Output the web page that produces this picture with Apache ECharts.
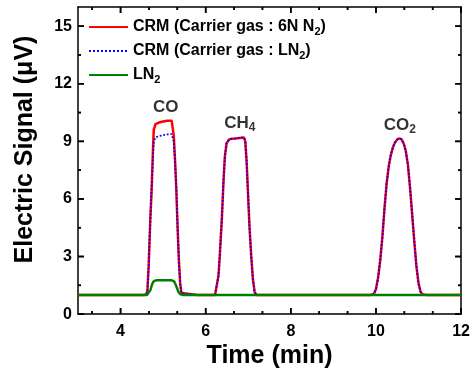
<!DOCTYPE html>
<html><head><meta charset="utf-8">
<script src="https://cdn.jsdelivr.net/npm/echarts@6/dist/echarts.min.js"></script>
<style>html,body{margin:0;padding:0;background:#fff}#c{width:473px;height:374px}</style>
</head><body><div id="c"></div>
<script>
// ---- data (time in min, signal in µV) ----
const xMajorTicks = [4, 6, 8, 10, 12];
const xMinorTicks = [3.333, 4.667, 5.333, 6.667, 7.333, 8.667, 9.333, 10.667, 11.333];
const yMajorTicks = [0, 3, 6, 9, 12, 15];
const yMinorTicks = [1.5, 4.5, 7.5, 10.5, 13.5];

const baseStart = [[3, 1.0], [4.0, 1.0], [4.55, 1.0]];
const redCO = [[4.6,1.02],[4.63,1.2],[4.66,2.5],[4.7,5.0],[4.73,6.5],[4.76,8.5],[4.78,9.6],[4.82,9.9],[4.9,9.98],[5.0,10.03],[5.1,10.07],[5.2,10.08],[5.23,10.0],[5.25,9.3],[5.28,8.0],[5.31,6.5],[5.34,4.5],[5.37,2.8],[5.4,1.6],[5.43,1.1],[5.47,1.0]];
const blueCO = [[4.6,1.02],[4.63,1.2],[4.66,2.5],[4.7,5.0],[4.73,6.5],[4.76,8.2],[4.78,9.0],[4.82,9.2],[4.9,9.27],[5.0,9.32],[5.1,9.36],[5.2,9.38],[5.23,9.3],[5.25,9.0],[5.28,8.0],[5.31,6.5],[5.34,4.5],[5.37,2.8],[5.4,1.6],[5.43,1.1],[5.47,1.0]];
const baseMid = [[5.8, 1.0], [6.22, 1.0]];
const ch4 = [[6.26,1.03],[6.3,2.0],[6.33,3.0],[6.38,5.0],[6.42,7.0],[6.45,8.2],[6.49,8.9],[6.55,9.1],[6.6,9.13],[6.7,9.15],[6.8,9.18],[6.9,9.2],[6.93,9.0],[6.96,8.0],[6.99,6.5],[7.03,4.5],[7.07,3.0],[7.11,1.8],[7.15,1.15],[7.19,1.0]];
const baseMid2 = [[8.5, 1.0], [9.88, 1.0]];
const co2 = [[9.95,1.05],[10.0,1.3],[10.05,1.9],[10.1,2.8],[10.15,4.0],[10.2,5.5],[10.25,6.8],[10.3,7.7],[10.35,8.3],[10.4,8.7],[10.45,8.95],[10.5,9.1],[10.55,9.15],[10.6,9.1],[10.65,8.9],[10.7,8.5],[10.75,7.8],[10.8,6.6],[10.85,5.2],[10.9,3.8],[10.95,2.5],[11.0,1.6],[11.05,1.15],[11.1,1.02]];
const baseEnd = [[11.2, 1.0], [12, 1.0]];
const greenCO = [[4.62,1.0],[4.66,1.05],[4.7,1.25],[4.74,1.55],[4.78,1.72],[4.85,1.76],[5.0,1.77],[5.2,1.76],[5.26,1.7],[5.31,1.45],[5.36,1.15],[5.41,1.03],[5.46,1.0]];

const peakLabels = [
  { name: 'CO', text: 'CO', x: 5.06, y: 10.75 },
  { name: 'CH4', text: 'CH{sub|4}', x: 6.8, y: 9.95 },
  { name: 'CO2', text: 'CO{sub|2}', x: 10.56, y: 9.85 }
];
const legendNames = ['CRM (Carrier gas : 6N N2)', 'CRM (Carrier gas : LN2)', 'LN2'];
const legendRich = {
  'CRM (Carrier gas : 6N N2)': 'CRM (Carrier gas : 6N N{sub|2})',
  'CRM (Carrier gas : LN2)': 'CRM (Carrier gas : LN{sub|2})',
  'LN2': 'LN{sub|2}'
};

const redData = [].concat(baseStart, redCO, baseMid, ch4, baseMid2, co2, baseEnd);
const blueData = [].concat(baseStart, blueCO, baseMid, ch4, baseMid2, co2, baseEnd);
const greenData = [].concat(baseStart, greenCO, [[6.0,1.0],[9.0,1.0]], baseEnd);

const X_MIN = 3, X_MAX = 12, Y_MIN = 0, Y_MAX = 16;
const FONT = 'Liberation Sans, Arial, sans-serif';
const subStyle = { fontSize: 11, fontWeight: 'bold', fontFamily: FONT, color: '#000', padding: [9, 0, 0, 0] };

// tick items: [x, y, length, direction] ; direction: 0 up, 1 down, 2 right, 3 left
const tickItems = [].concat(
  xMajorTicks.map(v => [v, Y_MIN, 6, 0]), xMajorTicks.map(v => [v, Y_MAX, 6, 1]),
  xMinorTicks.map(v => [v, Y_MIN, 3, 0]), xMinorTicks.map(v => [v, Y_MAX, 3, 1]),
  yMajorTicks.map(v => [X_MIN, v, 6, 2]), yMajorTicks.map(v => [X_MAX, v, 6, 3]),
  yMinorTicks.map(v => [X_MIN, v, 3, 2]), yMinorTicks.map(v => [X_MAX, v, 3, 3])
);
const TW = 1.6; // tick thickness
// rectangle for a tick starting at pixel p
function tickRect(p, len, d) {
  if (d === 0) return { x: p[0] - TW / 2, y: p[1] - len, width: TW, height: len };
  if (d === 1) return { x: p[0] - TW / 2, y: p[1], width: TW, height: len };
  if (d === 2) return { x: p[0], y: p[1] - TW / 2, width: len, height: TW };
  return { x: p[0] - len, y: p[1] - TW / 2, width: len, height: TW };
}
function tickRender(params, api) {
  const p = api.coord([api.value(0), api.value(1)]);
  return { type: 'rect', shape: tickRect(p, api.value(2), api.value(3)), style: { fill: '#000' } };
}

function axisBase(min, max, pos, interval) {
  return {
    type: 'value', position: pos, min, max, interval,
    axisLine: { show: true, onZero: false, lineStyle: { color: '#000', width: 1.5 } },
    axisTick: { show: false }, splitLine: { show: false }, minorTick: { show: false }
  };
}

const xMain = Object.assign(axisBase(X_MIN, X_MAX, 'bottom', 1), {
  name: 'Time (min)', nameLocation: 'middle', nameGap: 23,
  nameTextStyle: { fontSize: 25, fontWeight: 'bold', fontFamily: FONT, color: '#000' },
  axisLabel: { show: true, margin: 9, fontSize: 16, fontWeight: 'bold', fontFamily: FONT, color: '#000',
    formatter: v => (xMajorTicks.indexOf(v) >= 0 ? String(v) : '') }
});
const xTop = Object.assign(axisBase(X_MIN, X_MAX, 'top', 1), { axisLabel: { show: false } });
const yMain = Object.assign(axisBase(Y_MIN, Y_MAX, 'left', 3), {
  name: 'Electric Signal (\u03bcV)', nameLocation: 'middle', nameGap: 40,
  nameTextStyle: { fontSize: 25, fontWeight: 'bold', fontFamily: FONT, color: '#000', padding: [0, 0, 0, 22] },
  axisLabel: { show: true, margin: 6, fontSize: 16, fontWeight: 'bold', fontFamily: FONT, color: '#000',
    formatter: v => (yMajorTicks.indexOf(v) >= 0 ? String(v) : '') }
});
const yRight = Object.assign(axisBase(Y_MIN, Y_MAX, 'right', 3), { axisLabel: { show: false } });

const chart = echarts.init(document.getElementById('c'));
chart.setOption({
  animation: false,
  grid: { left: 78, right: 10.5, top: 7, bottom: 58, containLabel: false },
  xAxis: [xMain, xTop],
  yAxis: [yMain, yRight],
  legend: {
    data: legendNames,
    orient: 'vertical', left: 83, top: 14,
    itemWidth: 39, itemHeight: 14, itemGap: 6,
    itemStyle: { opacity: 0 },
    formatter: n => legendRich[n],
    textStyle: { fontSize: 16, fontWeight: 'bold', fontFamily: FONT, color: '#000', rich: { sub: subStyle } }
  },
  series: [
    { name: legendNames[0], type: 'line', data: redData, symbol: 'none', lineStyle: { color: '#ff0000', width: 2.5 }, itemStyle: { color: '#ff0000' }, z: 2 },
    { name: legendNames[1], type: 'line', data: blueData, symbol: 'none', lineStyle: { color: '#0000ff', width: 1.8, type: 'dotted' }, itemStyle: { color: '#0000ff' }, z: 3 },
    { name: legendNames[2], type: 'line', data: greenData, symbol: 'none', lineStyle: { color: '#008000', width: 2.5 }, itemStyle: { color: '#008000' }, z: 4 },
    { type: 'custom', clip: false, data: tickItems, renderItem: tickRender },
    {
      type: 'scatter', symbolSize: 0,
      data: peakLabels.map(p => ({ name: p.name, value: [p.x, p.y], text: p.text })),
      label: {
        show: true, position: 'inside',
        formatter: p => p.data.text,
        fontSize: 17, fontWeight: 'bold', fontFamily: FONT, color: '#000',
        rich: { sub: Object.assign({}, subStyle, { fontSize: 12 }) }
      }
    }
  ]
});

// backup tick drawing through the chart's own coordinate conversion
try {
  const tickGraphics = tickItems.map(t => {
    const p = chart.convertToPixel({ xAxisIndex: 0, yAxisIndex: 0 }, [t[0], t[1]]);
    return { type: 'rect', z: 100, silent: true, shape: tickRect(p, t[2], t[3]), style: { fill: '#000' } };
  });
  chart.setOption({ graphic: { elements: tickGraphics } });
} catch (e) {}
</script>
</body></html>
